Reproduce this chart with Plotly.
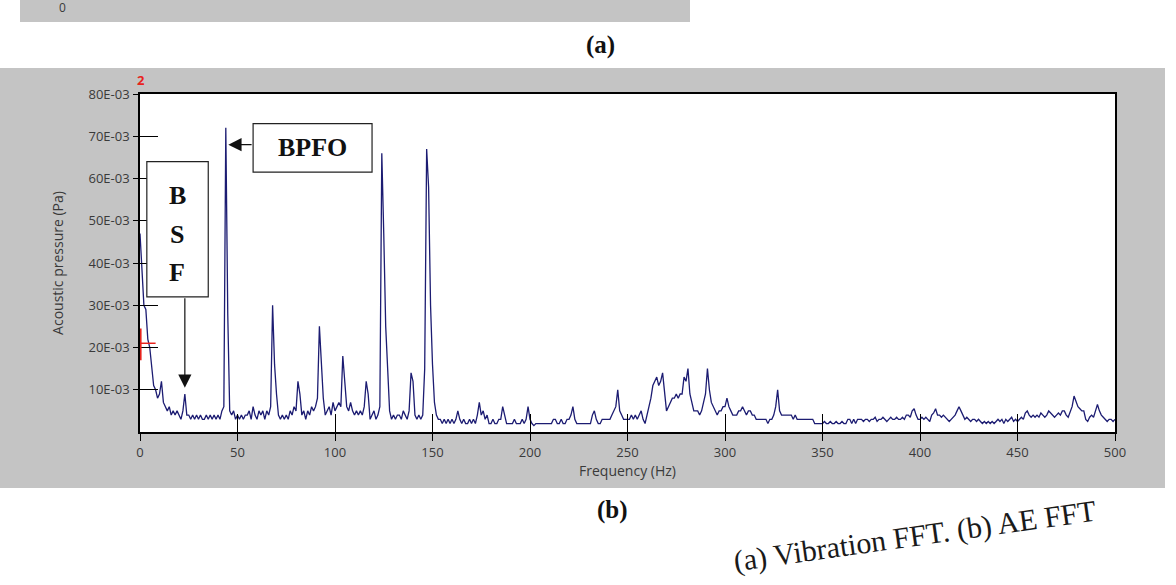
import plotly.graph_objects as go

# ---------------- data ----------------
freq_hz = list(range(0, 501))  # 1 Hz spectral lines, 0..500 Hz

# acoustic pressure amplitude, in units of 1E-03 Pa, one value per Hz
amp_mpa = [
    47, 37, 30, 29, 22, 20, 15, 11, 10, 8,          # 0-9
    9, 12, 7, 6, 5, 6, 4, 5, 4, 5,                  # 10-19
    4, 3, 5, 9, 4, 4, 3, 4, 3, 4,                   # 20-29
    3, 4, 3, 3, 4, 3, 4, 3, 4, 3,                   # 30-39
    4, 3, 5, 6, 72, 28, 5, 4, 5, 3,                 # 40-49
    4, 3, 4, 3, 4, 4, 5, 3, 6, 4,                   # 50-59
    3, 5, 4, 5, 3, 5, 4, 6, 30, 16,                 # 60-69
    9, 4, 3, 4, 3, 4, 3, 5, 4, 6,                   # 70-79
    5, 12, 9, 4, 5, 3, 5, 4, 6, 5,                  # 80-89
    6, 8, 25, 16, 8, 4, 5, 6, 4, 7,                 # 90-99
    5, 6, 7, 6, 18, 12, 6, 5, 7, 5,                 # 100-109
    4, 5, 4, 5, 4, 6, 12, 9, 3, 4,                  # 110-119
    5, 3, 4, 6, 66, 47, 25, 15, 5, 3,               # 120-129
    4, 3, 4, 4, 3, 5, 4, 3, 5, 14,                  # 130-139
    12, 4, 3, 4, 3, 4, 15, 67, 58, 30,              # 140-149
    16, 7, 4, 3, 3, 2, 3, 2, 3, 2,                  # 150-159
    3, 2, 3, 5, 3, 2, 3, 2, 2, 3,                   # 160-169
    2, 3, 2, 4, 7, 4, 5, 3, 4, 2,                   # 170-179
    2, 3, 2, 2, 3, 3, 6, 4, 2, 2,                   # 180-189
    2, 2, 3, 2, 2, 2, 3, 2, 3, 6,                   # 190-199
    3, 2, 1.5, 2, 2, 2, 2, 2, 2, 2,                 # 200-209
    2, 2, 3, 3, 2, 2, 3, 2, 2, 3,                   # 210-219
    3, 4, 6, 3, 2, 2, 2, 2, 2, 2,                   # 220-229
    2, 2, 4, 5, 3, 2, 2, 3, 3, 3,                   # 230-239
    3, 3, 4, 5, 6, 10, 5, 4, 3, 3,                  # 240-249
    3, 3, 4, 3, 4, 3, 4, 5, 3, 2,                   # 250-259
    4, 6, 8, 11, 12, 13, 11, 12, 14, 10,            # 260-269
    5, 6, 7, 8, 8, 9, 8, 9, 9, 13,                  # 270-279
    12, 15, 9, 7, 5, 5, 5, 4, 5, 7,                 # 280-289
    9, 15, 10, 7, 6, 5, 4, 5, 5, 6,                 # 290-299
    6, 8, 6, 5, 4, 4, 4, 5, 5, 6,                   # 300-309
    5, 4, 5, 5, 4, 4, 3, 3, 3, 3,                   # 310-319
    3, 3, 2, 3, 3, 4, 6, 10, 5, 4,                  # 320-329
    4, 4, 4, 4, 4, 3, 4, 3, 3, 3,                   # 330-339
    3, 3, 3, 3, 3, 3, 2, 2, 2, 2,                   # 340-349
    2, 2.5, 2, 2, 2.5, 2, 2, 2.5, 2, 2,             # 350-359
    2.5, 2, 2, 3, 3, 2, 3, 2, 3, 3,                 # 360-369
    3, 2.5, 3, 3, 2.5, 3, 3, 3.5, 2.5, 3,           # 370-379
    3, 3.5, 3, 2.5, 3, 3.5, 3, 3, 3.5, 3,           # 380-389
    3, 3.5, 3, 4, 4, 3.5, 5, 5.5, 4, 3,             # 390-399
    3, 3.5, 3, 3.5, 3, 2.5, 4, 4.5, 5.5, 4,         # 400-409
    4, 3.5, 4, 3.5, 3, 2.5, 3, 3.5, 4, 5,           # 410-419
    6, 5, 4, 3, 3.5, 3, 2.5, 3, 3, 2.5,             # 420-429
    3, 2.5, 2, 2.5, 2, 2.5, 2, 2.5, 2, 2.5,         # 430-439
    3, 2.5, 3, 2, 3, 2.5, 3, 3.5, 2.5, 3,           # 440-449
    2.5, 3, 3.5, 3, 4.5, 5, 4, 3.5, 4, 3.5,         # 450-459
    4, 3.5, 4.5, 4, 3.5, 4, 5, 4.5, 4, 3.5,         # 460-469
    4, 4.5, 4, 5, 5, 4, 3.5, 5, 6, 8.5,             # 470-479
    7, 6, 5.5, 5, 5, 3, 2.5, 3.5, 4, 3.5,           # 480-489
    5, 6.5, 5, 4, 3.5, 3, 2.5, 3, 3, 2.5,           # 490-499
    3,                                              # 500
]
amp_pa = [v * 1e-3 for v in amp_mpa]

x_tick_values = [0, 50, 100, 150, 200, 250, 300, 350, 400, 450, 500]
y_tick_values = [0.01, 0.02, 0.03, 0.04, 0.05, 0.06, 0.07, 0.08]
y_tick_labels = ["10E-03", "20E-03", "30E-03", "40E-03",
                 "50E-03", "60E-03", "70E-03", "80E-03"]

# annotation anchors (data units)
bsf_freq = 23
bpfo_freq = 44

# ---------------- figure ----------------
W, H = 1176, 585
PX_L, PX_R, PX_T, PX_B = 140, 1115, 94, 432   # plot area in pixels


def fx(px):
    return px / W


def fy(py):
    return 1 - py / H


x_dom = [fx(PX_L), fx(PX_R)]
y_dom = [fy(PX_B), fy(PX_T)]

LINE_COL = "#1c1c72"
TICK_FONT = dict(family="Open Sans", size=13, color="#3a3a3a")
TITLE_FONT = dict(family="Open Sans", size=14, color="#3a3a3a")
SERIF = "Liberation Serif"

fig = go.Figure()
fig.add_trace(go.Scatter(
    x=freq_hz, y=amp_pa, mode="lines",
    line=dict(color=LINE_COL, width=1.3),
    showlegend=False, hoverinfo="x+y",
))
# empty helper trace so the overlay axes (outer halves of the crossing ticks) are drawn
fig.add_trace(go.Scatter(x=[None], y=[None], xaxis="x2", yaxis="y2",
                         showlegend=False, hoverinfo="skip"))

fig.update_layout(
    width=W, height=H,
    margin=dict(l=0, r=0, t=0, b=0),
    paper_bgcolor="white",
    plot_bgcolor="rgba(0,0,0,0)",
    xaxis=dict(
        domain=x_dom, range=[0, 500], tickmode="array", tickvals=x_tick_values,
        ticks="inside", ticklen=18, tickwidth=1.2, tickcolor="black",
        showline=True, linecolor="black", linewidth=1.5, mirror=True,
        showgrid=False, zeroline=False, tickfont=TICK_FONT,
        ticklabelstandoff=8, automargin=False,
        title=dict(text="Frequency (Hz)", font=TITLE_FONT, standoff=4),
    ),
    yaxis=dict(
        domain=y_dom, range=[0, 0.08], tickmode="array",
        tickvals=y_tick_values, ticktext=y_tick_labels,
        ticks="inside", ticklen=18, tickwidth=1.2, tickcolor="black",
        showline=True, linecolor="black", linewidth=1.5, mirror=True,
        showgrid=False, zeroline=False, tickfont=TICK_FONT,
        ticklabelstandoff=6, automargin=False,
        title=dict(text="Acoustic pressure (Pa)", font=TITLE_FONT, standoff=22),
    ),
    xaxis2=dict(
        overlaying="x", anchor="y2", range=[0, 500], tickmode="array",
        tickvals=x_tick_values, ticks="outside", ticklen=8, tickwidth=1.2,
        tickcolor="black", showticklabels=False, showline=False,
        showgrid=False, zeroline=False, side="bottom",
    ),
    yaxis2=dict(
        overlaying="y", anchor="x2", range=[0, 0.08], tickmode="array",
        tickvals=y_tick_values, ticks="outside", ticklen=6, tickwidth=1.2,
        tickcolor="black", showticklabels=False, showline=False,
        showgrid=False, zeroline=False, side="left",
    ),
)

GRAY = "#c4c4c4"
shapes = [
    # grey panel of chart (b)
    dict(type="rect", xref="paper", yref="paper", layer="below",
         x0=0, x1=fx(1165), y0=fy(488), y1=fy(68),
         fillcolor=GRAY, line=dict(width=0)),
    # remnant of chart (a) panel at the very top
    dict(type="rect", xref="paper", yref="paper", layer="below",
         x0=fx(20), x1=fx(690), y0=fy(22), y1=1,
         fillcolor=GRAY, line=dict(width=0)),
    # white plotting area
    dict(type="rect", xref="x domain", yref="y domain", layer="below",
         x0=0, x1=1, y0=0, y1=1, fillcolor="white", line=dict(width=0)),
    # BSF label box
    dict(type="rect", xref="x", yref="y", x0=3.5, x1=35, y0=0.032, y1=0.064,
         fillcolor="white", line=dict(color="#222222", width=1.2)),
    # BPFO label box
    dict(type="rect", xref="x", yref="y", x0=58, x1=119, y0=0.0615, y1=0.073,
         fillcolor="white", line=dict(color="#222222", width=1.2)),
    # red cursor marks near the y axis
    dict(type="line", xref="x", yref="y", x0=0.3, x1=0.3, y0=0.017, y1=0.0245,
         line=dict(color="#e8231d", width=2)),
    dict(type="line", xref="x", yref="y", x0=0.3, x1=8, y0=0.021, y1=0.021,
         line=dict(color="#e8231d", width=1.5)),
]
fig.update_layout(shapes=shapes)

letter_font = dict(family=SERIF, size=26, color="#111111")
mid = dict(xanchor="center", yanchor="middle", showarrow=False)
annotations = [
    dict(x=19, y=0.056, xref="x", yref="y", text="<b>B</b>", font=letter_font, **mid),
    dict(x=19, y=0.0467, xref="x", yref="y", text="<b>S</b>", font=letter_font, **mid),
    dict(x=19, y=0.0378, xref="x", yref="y", text="<b>F</b>", font=letter_font, **mid),
    dict(x=88.5, y=0.0674, xref="x", yref="y", text="<b>BPFO</b>",
         font=dict(family=SERIF, size=26, color="#111111"), **mid),
    # BSF arrow (down to the small spike)
    dict(x=bsf_freq, y=0.0105, xref="x", yref="y", ax=bsf_freq, ay=0.032,
         axref="x", ayref="y", text="", showarrow=True, arrowhead=2,
         arrowsize=2.2, arrowwidth=1.2, arrowcolor="#111111", standoff=0),
    # BPFO arrow (left to the big spike)
    dict(x=bpfo_freq + 1.3, y=0.068, xref="x", yref="y", ax=58, ay=0.068,
         axref="x", ayref="y", text="", showarrow=True, arrowhead=2,
         arrowsize=2.2, arrowwidth=1.2, arrowcolor="#111111", standoff=0),
    # panel letters and caption
    dict(x=fx(600), y=fy(45), xref="paper", yref="paper", text="<b>(a)</b>",
         font=dict(family=SERIF, size=25, color="#111111"), **mid),
    dict(x=fx(612), y=fy(510), xref="paper", yref="paper", text="<b>(b)</b>",
         font=dict(family=SERIF, size=25, color="#111111"), **mid),
    dict(x=fx(915), y=fy(536), xref="paper", yref="paper",
         text="(a) Vibration FFT. (b) AE FFT", textangle=-8,
         font=dict(family=SERIF, size=30, color="#1a1a1a"), **mid),
    dict(x=fx(62), y=fy(8), xref="paper", yref="paper", text="0",
         font=dict(family="Open Sans", size=12, color="#3a3a3a"), **mid),
    dict(x=fx(141), y=fy(80), xref="paper", yref="paper", text="<b>2</b>",
         font=dict(family="Open Sans", size=13, color="#e8231d"), **mid),
]
fig.update_layout(annotations=annotations)

fig.write_html("out.html", config={"displayModeBar": False},
               post_script="document.body.style.margin='0px';")
